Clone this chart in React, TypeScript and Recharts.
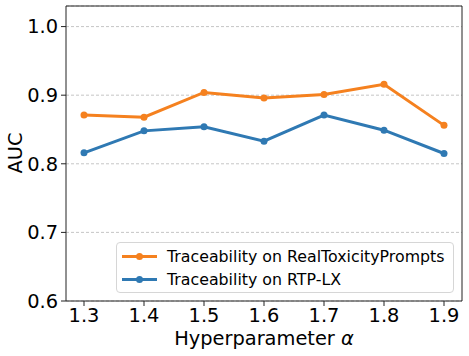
import React from 'react';
import { LineChart, Line, XAxis, YAxis, CartesianGrid, ReferenceLine } from 'recharts';

const alphas = [1.3, 1.4, 1.5, 1.6, 1.7, 1.8, 1.9];
const rtpValues = [0.871, 0.868, 0.904, 0.896, 0.901, 0.916, 0.856];
const rtplxValues = [0.816, 0.848, 0.854, 0.833, 0.871, 0.849, 0.815];
const yTicks = [0.6, 0.7, 0.8, 0.9, 1.0];
const seriesNames = ['Traceability on RealToxicityPrompts', 'Traceability on RTP-LX'];
const colors = ['#f5811f', '#2f79b3'];

const X_DOMAIN: [number, number] = [1.27, 1.93];
const Y_DOMAIN: [number, number] = [0.6, 1.03];

const data = alphas.map((a, i) => ({ alpha: a, rtp: rtpValues[i], rtplx: rtplxValues[i] }));

const FONT = 'DejaVu Sans';

const LegendBox = () => (
  <div
    style={{
      position: 'absolute',
      left: 116,
      top: 242,
      width: 336,
      height: 49,
      border: '1px solid #d6d6d6',
      borderRadius: 4,
      background: 'rgba(255,255,255,0.85)',
      fontFamily: FONT,
      fontSize: 15.8,
      color: '#000',
    }}
  >
    {seriesNames.map((name, i) => (
      <div key={name} style={{ display: 'flex', alignItems: 'center', height: 23, marginTop: i === 0 ? 1.5 : 0 }}>
        <svg width={50} height={23} style={{ marginLeft: 4 }}>
          <line x1={1} x2={36} y1={11.5} y2={11.5} stroke={colors[i]} strokeWidth={3} />
          <circle cx={18.5} cy={11.5} r={3.5} fill={colors[i]} />
        </svg>
        <span style={{ marginLeft: -4 }}>{name}</span>
      </div>
    ))}
  </div>
);

export default function App() {
  return (
    <div style={{ position: 'absolute', left: 0, top: 0, width: 469, height: 356 }}>
      <LineChart width={469} height={356} data={data} margin={{ top: 6, right: 7, left: 0, bottom: 0 }}>
        <CartesianGrid vertical={false} stroke="#b8b8b8" strokeDasharray="3 2" strokeWidth={0.8} />
        <XAxis
          dataKey="alpha"
          type="number"
          domain={X_DOMAIN}
          ticks={alphas}
          tickFormatter={(v: number) => v.toFixed(1)}
          height={55}
          stroke="#222"
          tickSize={5}
          tickMargin={2}
          tick={{ fill: '#000', fontSize: 19.4, fontFamily: FONT }}
          label={{
            content: () => (
              <text x={264} y={338} textAnchor="middle" dominantBaseline="central" fontSize={19.4} fontFamily={FONT} fill="#000">
                Hyperparameter <tspan fontStyle="italic">α</tspan>
              </text>
            ),
          }}
        />
        <YAxis
          domain={Y_DOMAIN}
          ticks={yTicks}
          tickFormatter={(v: number) => v.toFixed(1)}
          width={66}
          stroke="#222"
          tickSize={5}
          tickMargin={3}
          allowDataOverflow
          tick={{ fill: '#000', fontSize: 19.4, fontFamily: FONT }}
          label={{
            content: () => (
              <text x={15} y={153} transform="rotate(-90 15 153)" textAnchor="middle" dominantBaseline="central" fontSize={19.4} fontFamily={FONT} fill="#000">
                AUC
              </text>
            ),
          }}
        />
        <ReferenceLine y={Y_DOMAIN[1]} stroke="#222" strokeWidth={1} />
        <ReferenceLine x={X_DOMAIN[1]} stroke="#222" strokeWidth={1} />
        <Line dataKey="rtp" name={seriesNames[0]} stroke={colors[0]} strokeWidth={3} dot={{ r: 3.5, fill: colors[0], stroke: colors[0], strokeWidth: 0 }} isAnimationActive={false} />
        <Line dataKey="rtplx" name={seriesNames[1]} stroke={colors[1]} strokeWidth={3} dot={{ r: 3.5, fill: colors[1], stroke: colors[1], strokeWidth: 0 }} isAnimationActive={false} />
      </LineChart>
      <LegendBox />
    </div>
  );
}
